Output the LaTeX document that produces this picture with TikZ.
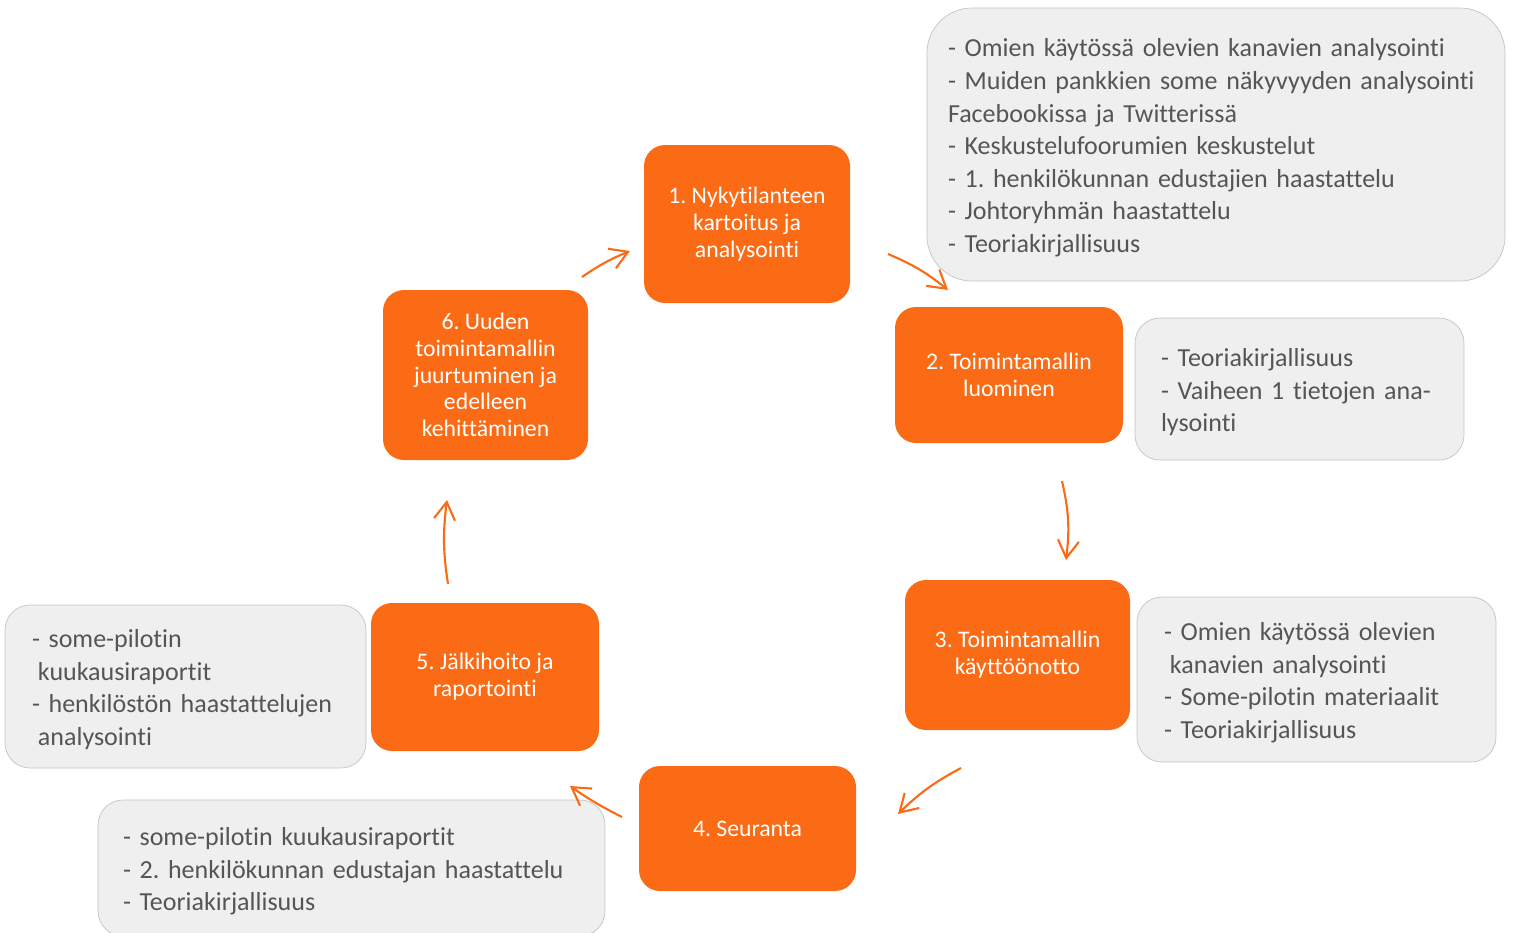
\documentclass[tikz,border=0pt]{standalone}
\usepackage{fontspec}
\setmainfont{Carlito}[Ligatures=NoCommon]
\usepackage{tikz}
\usetikzlibrary{arrows.meta}
\frenchspacing
\definecolor{stepor}{HTML}{FB6A14}
\definecolor{notefill}{HTML}{EFEFEF}
\definecolor{noteline}{HTML}{C4C4C4}
\definecolor{notetext}{HTML}{555555}
\newcommand{\notelines}[1]{\raisebox{-2pt}[\height][\depth]{\begin{tabular}{@{}l@{}}#1\end{tabular}}}
\tikzset{
  stepnode/.style={rectangle,rounded corners=0.42cm,fill=stepor,text=white,align=center,
    inner sep=0pt,font=\fontsize{13.5}{15.2}\selectfont},
  notebox/.style={rectangle,rounded corners=0.5cm,draw=noteline,fill=notefill,text=notetext,
    align=left,inner ysep=0pt,font=\fontsize{14.8}{18.5}\selectfont},
  flowedge/.style={-{Straight Barb[length=3.5mm,width=4.2mm]},line width=1.2pt,stepor},
}

\begin{document}
\begin{tikzpicture}
  \useasboundingbox (0,0) rectangle (30.28,-18.64);
  % process steps
  \node[stepnode,minimum width=4.12cm,minimum height=3.16cm] (n1) at (14.94,-4.48) {1. Nykytilanteen\\kartoitus ja\\analysointi};
  \node[stepnode,minimum width=4.56cm,minimum height=2.72cm] (n2) at (20.18,-7.50) {2. Toimintamallin\\luominen};
  \node[stepnode,minimum width=4.50cm,minimum height=3.00cm] (n3) at (20.35,-13.10) {3. Toimintamallin\\käyttöönotto};
  \node[stepnode,minimum width=4.34cm,minimum height=2.50cm] (n4) at (14.95,-16.57) {4. Seuranta};
  \node[stepnode,minimum width=4.56cm,minimum height=2.96cm] (n5) at (9.70,-13.54) {5. Jälkihoito ja\\raportointi};
  \node[stepnode,minimum width=4.10cm,minimum height=3.40cm] (n6) at (9.71,-7.50) {6. Uuden\\toimintamallin\\juurtuminen ja\\edelleen\\kehittäminen};
  % notes
  \node[notebox,rounded corners=0.9cm,inner xsep=0.42cm,text width=10.72cm,minimum height=5.46cm] (g1) at (24.32,-2.89)
    {\notelines{- Omien käytössä olevien kanavien analysointi\\- Muiden pankkien some näkyvyyden analysointi\\Facebookissa ja Twitterissä\\- Keskustelufoorumien keskustelut\\- 1. henkilökunnan edustajien haastattelu\\- Johtoryhmän haastattelu\\- Teoriakirjallisuus}};
  \node[notebox,inner xsep=0.52cm,text width=5.54cm,minimum height=2.84cm] (g2) at (25.99,-7.78)
    {\notelines{- Teoriakirjallisuus\\- Vaiheen 1 tietojen ana-\\lysointi}};
  \node[notebox,inner xsep=0.54cm,text width=6.10cm,minimum height=3.30cm] (g3) at (26.33,-13.59)
    {\notelines{- Omien käytössä olevien\\\hspace*{0.23em}kanavien analysointi\\- Some-pilotin materiaalit\\- Teoriakirjallisuus}};
  \node[notebox,inner xsep=0.50cm,text width=9.14cm,minimum height=2.72cm] (g4) at (7.03,-17.36)
    {\notelines{- some-pilotin kuukausiraportit\\- 2. henkilökunnan edustajan haastattelu\\- Teoriakirjallisuus}};
  \node[notebox,inner xsep=0.54cm,text width=6.14cm,minimum height=3.26cm] (g5) at (3.71,-13.73)
    {\notelines{- some-pilotin\\\hspace*{0.23em}kuukausiraportit\\- henkilöstön haastattelujen\\\hspace*{0.23em}analysointi}};
  % arrow ends
  \coordinate (a1s) at (11.64,-5.54);
  \coordinate (a1e) at (12.60,-5.02);
  \coordinate (a2s) at (17.76,-5.08);
  \coordinate (a2e) at (18.96,-5.80);
  \coordinate (a3s) at (21.24,-9.62);
  \coordinate (a3e) at (21.32,-11.20);
  \coordinate (a4s) at (19.22,-15.36);
  \coordinate (a4e) at (17.96,-16.28);
  \coordinate (a5s) at (12.44,-16.34);
  \coordinate (a5e) at (11.40,-15.72);
  \coordinate (a6s) at (8.96,-11.68);
  \coordinate (a6e) at (8.94,-10.00);
  \draw[flowedge] (a1s) to[bend left=6] (a1e);
  \draw[flowedge] (a2s) to[bend left=8] (a2e);
  \draw[flowedge] (a3s) to[bend left=10] (a3e);
  \draw[flowedge] (a4s) to[bend right=8] (a4e);
  \draw[flowedge] (a5s) to[bend left=4] (a5e);
  \draw[flowedge] (a6s) to[bend left=8] (a6e);
\end{tikzpicture}
\end{document}
